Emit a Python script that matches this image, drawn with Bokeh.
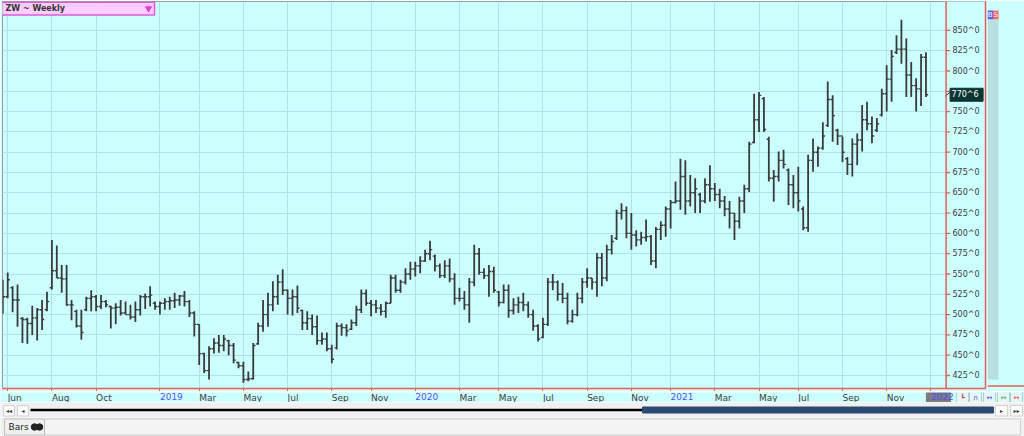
import math
import pandas as pd
from bokeh.plotting import figure
from bokeh.models import Range1d, FixedTicker, ColumnDataSource, Span
from bokeh.layouts import column, row
from bokeh.embed import file_html
from bokeh.resources import INLINE
from bokeh.core.properties import value

# ---------------- data ----------------
chart_title = "ZW ~ Weekly"
first_week = "2018-05-25"          # weekly bars (Fridays)

opens = [
    515, 522, 533, 518, 495, 494, 489, 496, 506, 506,
    533, 554, 545, 544, 512, 504, 486, 506, 520, 522,
    510, 516, 510, 508, 509, 502, 500, 497, 506, 522,
    522, 514, 510, 514, 516, 517, 518, 523, 516, 502,
    488, 452, 431, 458, 465, 462, 468, 462, 441, 437,
    420, 421, 464, 486, 500, 512, 522, 540, 530, 520,
    522, 505, 490, 495, 485, 468, 470, 458, 459, 486,
    484, 482, 490, 506, 526, 514, 512, 508, 504, 514,
    545, 530, 540, 550, 556, 560, 566, 575, 572, 560,
    548, 560, 544, 520, 520, 512, 540, 575, 552, 548,
    553, 528, 515, 530, 505, 512, 515, 512, 500, 486,
    472, 488, 540, 540, 525, 520, 492, 500, 520, 540,
    545, 540, 570, 545, 580, 594, 625, 628, 600, 598,
    592, 595, 596, 566, 605, 610, 630, 638, 640, 670,
    640, 650, 648, 640, 660, 655, 648, 640, 630, 625,
    615, 640, 655, 712, 740, 766, 716, 668, 670, 690,
    678, 660, 650, 630, 607, 690, 700, 705, 733, 765,
    727, 720, 692, 685, 710, 715, 740, 735, 727, 746,
    772, 790, 823, 827, 827, 795, 782, 778, 817,
]
highs = [
    543, 552, 535, 537, 497, 496, 511, 508, 518, 528,
    592, 585, 561, 561, 518, 506, 506, 522, 530, 524,
    524, 518, 511, 514, 518, 516, 512, 516, 524, 526,
    535, 516, 516, 520, 522, 527, 524, 529, 518, 504,
    488, 453, 461, 471, 475, 475, 469, 465, 442, 442,
    430, 465, 490, 518, 527, 541, 549, 556, 531, 531,
    536, 506, 504, 500, 499, 478, 478, 463, 490, 489,
    488, 494, 511, 531, 531, 518, 518, 513, 516, 549,
    549, 543, 557, 565, 565, 572, 580, 591, 574, 563,
    567, 569, 551, 533, 529, 545, 586, 582, 557, 561,
    559, 529, 537, 537, 520, 522, 527, 516, 506, 488,
    496, 545, 550, 542, 539, 527, 506, 527, 545, 557,
    545, 576, 576, 586, 598, 629, 637, 633, 625, 604,
    602, 617, 598, 608, 615, 633, 641, 664, 692, 690,
    672, 668, 650, 668, 684, 662, 655, 646, 640, 625,
    645, 660, 713, 772, 774, 768, 719, 678, 701, 703,
    680, 672, 682, 633, 697, 717, 707, 737, 787, 770,
    729, 719, 694, 717, 723, 758, 762, 744, 742, 778,
    807, 826, 844, 863, 840, 811, 791, 821, 823,
]
lows = [
    501, 520, 503, 485, 465, 464, 475, 468, 481, 504,
    531, 545, 527, 511, 493, 484, 469, 504, 504, 504,
    507, 509, 483, 488, 499, 500, 494, 491, 499, 507,
    510, 506, 500, 506, 506, 508, 511, 510, 497, 473,
    438, 428, 420, 452, 453, 455, 450, 440, 434, 416,
    418, 420, 463, 479, 485, 504, 512, 524, 500, 499,
    502, 481, 481, 475, 463, 463, 455, 440, 457, 474,
    473, 481, 486, 502, 511, 498, 502, 499, 496, 514,
    527, 527, 537, 543, 547, 551, 565, 567, 553, 545,
    545, 540, 512, 516, 506, 490, 535, 549, 544, 522,
    527, 510, 514, 496, 500, 502, 504, 496, 480, 467,
    471, 486, 530, 517, 514, 488, 490, 498, 514, 533,
    531, 522, 535, 541, 574, 592, 617, 594, 580, 584,
    586, 590, 561, 557, 592, 596, 606, 637, 629, 623,
    633, 625, 625, 637, 639, 640, 631, 621, 606, 592,
    606, 625, 651, 711, 725, 725, 664, 639, 664, 680,
    635, 631, 627, 604, 602, 676, 682, 703, 731, 713,
    709, 688, 672, 670, 684, 701, 727, 711, 725, 744,
    750, 762, 821, 809, 768, 768, 750, 757, 768,
]
closes = [
    522, 543, 518, 518, 494, 489, 496, 506, 494, 516,
    554, 545, 544, 512, 512, 486, 478, 520, 522, 510,
    516, 512, 508, 509, 502, 500, 497, 506, 522, 522,
    524, 510, 514, 516, 517, 518, 523, 516, 502, 488,
    452, 431, 458, 465, 462, 470, 462, 444, 437, 420,
    421, 462, 486, 500, 512, 522, 540, 530, 520, 522,
    508, 490, 495, 485, 468, 470, 458, 445, 486, 484,
    480, 490, 506, 526, 514, 512, 508, 504, 514, 545,
    530, 540, 550, 556, 560, 566, 575, 580, 560, 548,
    560, 544, 520, 520, 512, 540, 575, 552, 548, 553,
    530, 515, 530, 505, 512, 515, 512, 500, 486, 470,
    488, 540, 540, 525, 520, 492, 500, 520, 540, 545,
    540, 570, 545, 580, 590, 625, 628, 600, 598, 592,
    595, 596, 566, 605, 610, 630, 638, 640, 670, 640,
    650, 655, 640, 660, 655, 648, 640, 630, 625, 615,
    640, 655, 710, 740, 770, 728, 668, 670, 690, 685,
    660, 650, 640, 607, 690, 700, 705, 720, 765, 745,
    720, 700, 685, 710, 715, 740, 735, 720, 735, 772,
    790, 818, 827, 827, 795, 782, 778, 817, 770.75,
]
last_price_label = "770^6"

tick_months = ["2018-06", "2018-08", "2018-10", "2019-01", "2019-03", "2019-05",
               "2019-07", "2019-09", "2019-11", "2020-01", "2020-03", "2020-05",
               "2020-07", "2020-09", "2020-11", "2021-01", "2021-03", "2021-05",
               "2021-07", "2021-09", "2021-11", "2022-01"]
tick_labels = ["Jun", "Aug", "Oct", "2019", "Mar", "May", "Jul", "Sep", "Nov",
               "2020", "Mar", "May", "Jul", "Sep", "Nov", "2021", "Mar", "May",
               "Jul", "Sep", "Nov", "2022"]
price_ticks = [425, 450, 475, 500, 525, 550, 575, 600, 625, 650, 675, 700,
               725, 750, 775, 800, 825, 850]
price_labels = ["425^0", "450^0", "475^0", "500^0", "525^0", "550^0", "575^0",
                "600^0", "625^0", "650^0", "675^0", "700^0", "725^0", "750^0",
                "", "800^0", "825^0", "850^0"]

# ---------------- styling / geometry ----------------
BG = "#ccffff"
RED = "#e45f5a"
BAR = "#3a3a3a"
GRID = "#ade5e5"
FONT = "DejaVu Sans"
YEAR_BLUE = "#5050ff"

start = pd.Timestamp(first_week)
n = len(highs)
dates = pd.date_range(start, periods=n, freq="7D")
idx = list(range(n))
tick_idx = [math.ceil((pd.Timestamp(m + "-01") - start).days / 7) for m in tick_months]

W = 1024
MAIN_W, MAIN_H = 987, 391
STRIP_H, SCROLL_H, TAB_H = 11, 15, 19
FR_L, FR_R = 2, 985                 # frame edges inside the main figure
BOT = 3                              # space under the frame for the time ticks
X0, X1 = -0.06, 192.1               # bar area (X1 = price scale line)
PPU = 943.6 / (X1 - X0)             # pixels per week
X1E = X0 + (FR_R - FR_L) / PPU      # frame also holds the price labels
Y0, Y1 = 409.0, 885.6
PPY = (MAIN_H - 1 - BOT) / (Y1 - Y0)  # pixels per price unit

p = figure(width=MAIN_W, height=MAIN_H, x_range=Range1d(X0, X1E), y_range=Range1d(Y0, Y1),
           y_axis_location="right", toolbar_location=None, output_backend="svg",
           min_border_left=FR_L, min_border_right=MAIN_W - FR_R, min_border_top=1,
           min_border_bottom=BOT, background_fill_color=BG, border_fill_color=BG,
           outline_line_color="#9c9c9c", outline_line_width=1)

xa = p.xaxis[0]
xa.ticker = FixedTicker(ticks=tick_idx)
xa.major_label_overrides = {t: "" for t in tick_idx}
xa.major_label_text_font_size = "0px"
xa.major_label_standoff = 0
xa.axis_line_color = RED
xa.axis_line_width = 1.5
xa.major_tick_line_color = RED
xa.major_tick_out = 3
xa.major_tick_in = 0
xa.minor_tick_line_color = None

ya = p.yaxis[0]
ya.ticker = FixedTicker(ticks=price_ticks)
ya.major_label_overrides = dict(zip(price_ticks, price_labels))
ya.axis_line_color = RED
ya.axis_line_width = 1.5
ya.major_tick_line_color = None
ya.major_tick_out = 0
ya.major_tick_in = 0
ya.minor_tick_line_color = None
ya.major_label_standoff = -33
ya.major_label_text_font = FONT
ya.major_label_text_font_size = "8px"
ya.major_label_text_color = "#3c3c3c"

p.xgrid[0].ticker = FixedTicker(ticks=tick_idx)
p.ygrid[0].ticker = FixedTicker(ticks=price_ticks)
p.grid.grid_line_color = GRID
p.grid.grid_line_width = 1

# price-label area (no grid there) and price scale line with its ticks
p.quad(left=[X1], right=[X1E + 1], top=[Y1 + 5], bottom=[Y0 - 5], fill_color=BG, line_color=None)
p.add_layout(Span(location=X1, dimension="height", line_color=RED, line_width=1.5))
p.segment(x0=[X1] * len(price_ticks), y0=price_ticks, x1=[X1 + 4 / PPU] * len(price_ticks),
          y1=price_ticks, line_color=RED, line_width=1.3)

src = ColumnDataSource(dict(
    x=idx, xl=[i - 0.45 for i in idx], xr=[i + 0.45 for i in idx],
    o=opens, h=highs, l=lows, c=closes, date=dates))
p.segment(x0="x", y0="l", x1="x", y1="h", source=src, line_color=BAR, line_width=1.8)
p.segment(x0="xl", y0="o", x1="x", y1="o", source=src, line_color=BAR, line_width=1.4)
p.segment(x0="x", y0="c", x1="xr", y1="c", source=src, line_color=BAR, line_width=1.4)

# last price marker
last = closes[-1]
p.quad(left=[X1 + 4 / PPU], right=[X1 + 37 / PPU], top=[last + 6.5 / PPY],
       bottom=[last - 6.5 / PPY], fill_color="#0d3434", line_color="#0d3434")
p.text(x=[X1 + 5.5 / PPU], y=[last], text=[last_price_label], text_font=value(FONT),
       text_font_size="8px", text_color="#ffffff", text_align="left", text_baseline="middle")
p.segment(x0=[X1 - 1 / PPU], y0=[last - 1.5 / PPY], x1=[X1 + 4 / PPU], y1=[last + 2.5 / PPY],
          line_color="#333333", line_width=1)

# symbol box (top-left)
p.quad(left=[X0 - 0.3], right=[X0 + 152 / PPU], top=[Y1 - 0.8 / PPY], bottom=[Y1 - 13.5 / PPY],
       fill_color="#ffccff", line_color="#dd5cdd", line_width=1.5)
p.text(x=[X0 + 3 / PPU], y=[Y1 - 7 / PPY], text=[chart_title], text_font=value(FONT),
       text_font_size="8px", text_font_style="bold", text_color="#333333",
       text_baseline="middle", text_align="left")
p.scatter(x=[X0 + 146 / PPU], y=[Y1 - 7 / PPY], marker="inverted_triangle", size=6,
          fill_color="#e03ce0", line_color="#e03ce0")

# ---------------- side strip (B/S column) ----------------
SIDE_W = W - MAIN_W
s = figure(width=SIDE_W, height=MAIN_H, x_range=Range1d(0, SIDE_W), y_range=Range1d(MAIN_H, 0),
           toolbar_location=None, output_backend="svg", x_axis_location=None,
           y_axis_location=None, min_border=0, background_fill_color=BG,
           border_fill_color=BG, outline_line_color=None)
s.grid.visible = False
frame_bottom = MAIN_H - BOT
s.quad(left=[0], right=[11], top=[18], bottom=[frame_bottom - 6],
       fill_color="#b8e0e0", line_color=None)
s.quad(left=[0, 5.5], right=[5.5, 11], top=[9, 9], bottom=[18, 18],
       fill_color=["#5c5cff", "#ff6262"], line_color=None)
s.text(x=[2.75, 8.25], y=[13.7, 13.7], text=["B", "S"], text_font=value(FONT),
       text_font_size="7px", text_color="#ffffff", text_align="center",
       text_baseline="middle")
s.segment(x0=[0], y0=[frame_bottom + 0.5], x1=[SIDE_W], y1=[frame_bottom + 0.5],
          line_color=RED, line_width=1.5)

# ---------------- time-axis label strip ----------------
st = figure(width=W, height=STRIP_H, x_range=Range1d(X0 - FR_L / PPU, X0 + (W - FR_L) / PPU),
            y_range=Range1d(STRIP_H, 0), toolbar_location=None, output_backend="svg",
            x_axis_location=None, y_axis_location=None, min_border=0,
            background_fill_color=BG, border_fill_color=BG, outline_line_color=None)
st.grid.visible = False
st.extra_x_ranges = {"px": Range1d(0, W)}
yr = tick_idx[-1]
st.quad(left=[yr - 5 / PPU], right=[yr + 20 / PPU], top=[-1], bottom=[STRIP_H - 1.5],
        fill_color="#7c7c7c", line_color=None)
st.text(x=tick_idx, y=[0.5] * len(tick_idx), text=tick_labels, text_font=value(FONT),
        text_font_size="9px", text_align="left", text_baseline="top",
        text_color=[YEAR_BLUE if t.isdigit() else "#3c3c3c" for t in tick_labels])
btn_left = [956, 969, 983, 997, 1010]
st.quad(left=btn_left, right=[b + 12 for b in btn_left], top=[-1] * 5, bottom=[STRIP_H - 0.5] * 5,
        fill_color="#e6f6f6", line_color="#b0d0d0", x_range_name="px")
st.text(x=[b + 6 for b in btn_left], y=[5] * 5,
        text=["\u2517", "\u2229", "\u2194", "\u2194", "\u2194"], text_font=value(FONT),
        text_font_size="7px", text_align="center", text_baseline="middle",
        text_color=["#e03c3c", "#3c3ce0", "#3c3ce0", "#2cb02c", "#e03c3c"], x_range_name="px")

# ---------------- scroll strip ----------------
sc = figure(width=W, height=SCROLL_H, x_range=Range1d(0, W), y_range=Range1d(SCROLL_H, 0),
            toolbar_location=None, output_backend="svg", x_axis_location=None,
            y_axis_location=None, min_border=0, background_fill_color="#f0f0f0",
            border_fill_color="#f0f0f0", outline_line_color=None)
sc.grid.visible = False
sc.quad(left=[3, 17, 995, 1010], right=[14, 28, 1007, 1022], top=[3] * 4, bottom=[13.5] * 4,
        fill_color="#fcfcfc", line_color="#d2d2d2")
sc.text(x=[8.5, 22.5, 1001, 1016], y=[8.3] * 4,
        text=["\u25c2\u25c2", "\u25c2", "\u25b8", "\u25b8\u25b8"],
        text_font=value(FONT), text_font_size="6px", text_color="#333333",
        text_align="center", text_baseline="middle")
sc.segment(x0=[30], y0=[7.5], x1=[644], y1=[7.5], line_color="#000000", line_width=2.5)
sc.quad(left=[642], right=[993], top=[4.5], bottom=[10.5],
        fill_color="#2a4a72", line_color="#2a4a72")

# ---------------- tab strip ----------------
tb = figure(width=W, height=TAB_H, x_range=Range1d(0, W), y_range=Range1d(TAB_H, 0),
            toolbar_location=None, output_backend="svg", x_axis_location=None,
            y_axis_location=None, min_border=0, background_fill_color="#f0f0f0",
            border_fill_color="#f0f0f0", outline_line_color=None)
tb.grid.visible = False
tb.quad(left=[44], right=[1020], top=[1.5], bottom=[TAB_H - 1.5],
        fill_color="#f4f4f4", line_color="#cdcdcd")
tb.quad(left=[4], right=[44], top=[1.5], bottom=[TAB_H - 1.5],
        fill_color="#f0f0f0", line_color="#bdbdbd")
tb.text(x=[8], y=[TAB_H / 2], text=["Bars"], text_font=value(FONT), text_font_size="9px",
        text_color="#222222", text_align="left", text_baseline="middle")
tb.scatter(x=[34, 39], y=[TAB_H / 2] * 2, marker="circle", size=6.5,
           fill_color="#222222", line_color="#222222")

layout = column(row(p, s, spacing=0), st, sc, tb, spacing=0)

open("out.html", "w").write(file_html(layout, INLINE))
